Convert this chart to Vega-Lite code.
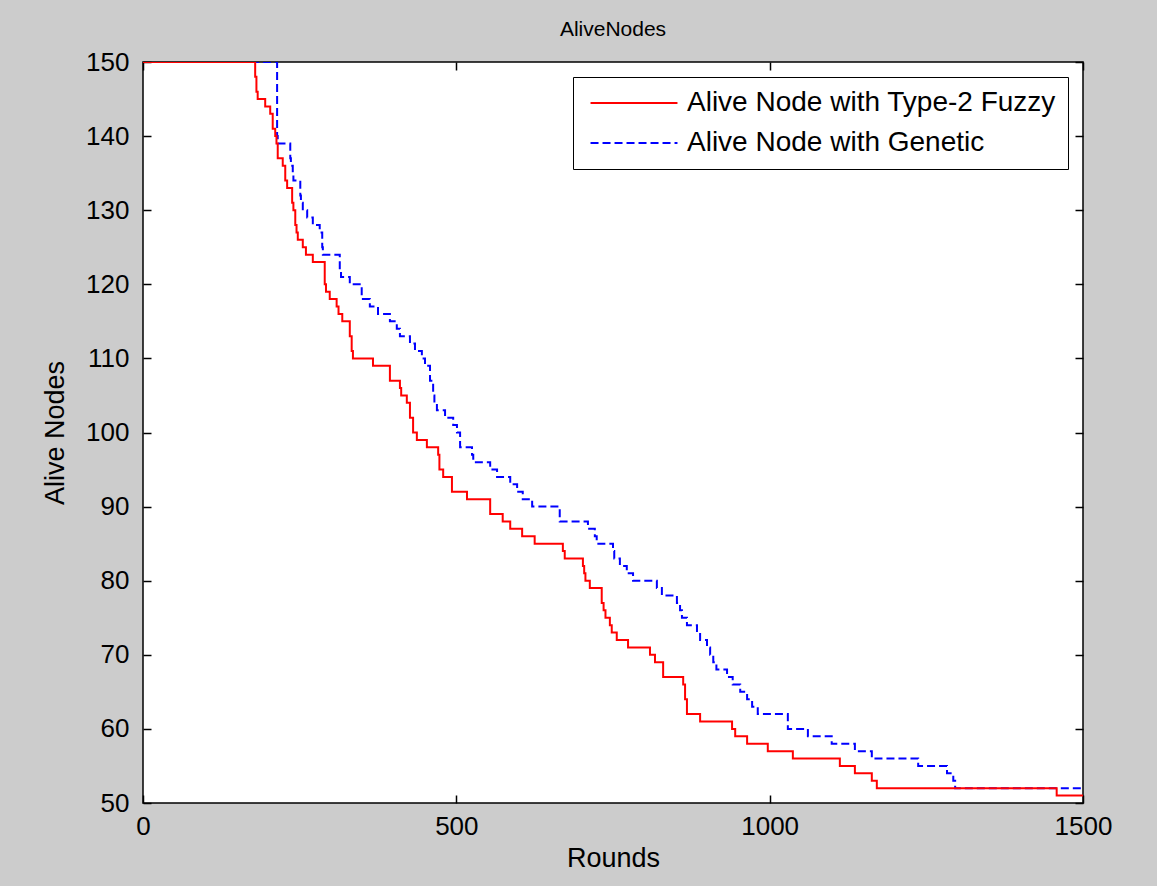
{
  "$schema": "https://vega.github.io/schema/vega-lite/v6.json",
  "width": 940,
  "height": 741,
  "autosize": "none",
  "padding": {"left": 143, "top": 62, "right": 74, "bottom": 83},
  "background": "#cccccc",
  "title": {"text": "AliveNodes", "anchor": "middle"},
  "config": {
    "title": {"fontSize": 21, "font": "Liberation Sans", "fontWeight": "normal", "color": "#000000", "offset": 9},
    "view": {"fill": "#ffffff", "stroke": "#000000", "strokeWidth": 1.5},
    "axis": {"labelFont": "Liberation Sans", "titleFont": "Liberation Sans", "labelFontSize": 26, "titleFontSize": 27, "titleFontWeight": "normal", "labelColor": "#000000", "titleColor": "#000000", "grid": false, "domain": false, "tickColor": "#000000", "tickWidth": 1.5, "tickSize": -8, "labelFlush": false, "format": "d"},
    "legend": {"labelFont": "Liberation Sans", "labelFontSize": 28, "labelColor": "#000000", "labelLimit": 600}
  },
  "data": {"values": [
    {"series": "Alive Node with Type-2 Fuzzy", "round": 0, "value": 150},
    {"series": "Alive Node with Type-2 Fuzzy", "round": 179, "value": 148},
    {"series": "Alive Node with Type-2 Fuzzy", "round": 181, "value": 146},
    {"series": "Alive Node with Type-2 Fuzzy", "round": 183, "value": 145},
    {"series": "Alive Node with Type-2 Fuzzy", "round": 195, "value": 144},
    {"series": "Alive Node with Type-2 Fuzzy", "round": 203, "value": 143},
    {"series": "Alive Node with Type-2 Fuzzy", "round": 207, "value": 141},
    {"series": "Alive Node with Type-2 Fuzzy", "round": 211, "value": 140},
    {"series": "Alive Node with Type-2 Fuzzy", "round": 213, "value": 139},
    {"series": "Alive Node with Type-2 Fuzzy", "round": 215, "value": 137},
    {"series": "Alive Node with Type-2 Fuzzy", "round": 223, "value": 136},
    {"series": "Alive Node with Type-2 Fuzzy", "round": 227, "value": 134},
    {"series": "Alive Node with Type-2 Fuzzy", "round": 230, "value": 133},
    {"series": "Alive Node with Type-2 Fuzzy", "round": 238, "value": 131},
    {"series": "Alive Node with Type-2 Fuzzy", "round": 240, "value": 130},
    {"series": "Alive Node with Type-2 Fuzzy", "round": 243, "value": 128},
    {"series": "Alive Node with Type-2 Fuzzy", "round": 245, "value": 127},
    {"series": "Alive Node with Type-2 Fuzzy", "round": 247, "value": 126},
    {"series": "Alive Node with Type-2 Fuzzy", "round": 255, "value": 125},
    {"series": "Alive Node with Type-2 Fuzzy", "round": 260, "value": 124},
    {"series": "Alive Node with Type-2 Fuzzy", "round": 271, "value": 123},
    {"series": "Alive Node with Type-2 Fuzzy", "round": 290, "value": 120},
    {"series": "Alive Node with Type-2 Fuzzy", "round": 292, "value": 119},
    {"series": "Alive Node with Type-2 Fuzzy", "round": 298, "value": 118},
    {"series": "Alive Node with Type-2 Fuzzy", "round": 309, "value": 117},
    {"series": "Alive Node with Type-2 Fuzzy", "round": 312, "value": 116},
    {"series": "Alive Node with Type-2 Fuzzy", "round": 318, "value": 115},
    {"series": "Alive Node with Type-2 Fuzzy", "round": 330, "value": 113},
    {"series": "Alive Node with Type-2 Fuzzy", "round": 333, "value": 111},
    {"series": "Alive Node with Type-2 Fuzzy", "round": 335, "value": 110},
    {"series": "Alive Node with Type-2 Fuzzy", "round": 367, "value": 109},
    {"series": "Alive Node with Type-2 Fuzzy", "round": 394, "value": 107},
    {"series": "Alive Node with Type-2 Fuzzy", "round": 410, "value": 106},
    {"series": "Alive Node with Type-2 Fuzzy", "round": 412, "value": 105},
    {"series": "Alive Node with Type-2 Fuzzy", "round": 421, "value": 104},
    {"series": "Alive Node with Type-2 Fuzzy", "round": 426, "value": 102},
    {"series": "Alive Node with Type-2 Fuzzy", "round": 431, "value": 100},
    {"series": "Alive Node with Type-2 Fuzzy", "round": 437, "value": 99},
    {"series": "Alive Node with Type-2 Fuzzy", "round": 453, "value": 98},
    {"series": "Alive Node with Type-2 Fuzzy", "round": 471, "value": 97},
    {"series": "Alive Node with Type-2 Fuzzy", "round": 473, "value": 95},
    {"series": "Alive Node with Type-2 Fuzzy", "round": 479, "value": 94},
    {"series": "Alive Node with Type-2 Fuzzy", "round": 493, "value": 92},
    {"series": "Alive Node with Type-2 Fuzzy", "round": 517, "value": 91},
    {"series": "Alive Node with Type-2 Fuzzy", "round": 554, "value": 89},
    {"series": "Alive Node with Type-2 Fuzzy", "round": 574, "value": 88},
    {"series": "Alive Node with Type-2 Fuzzy", "round": 586, "value": 87},
    {"series": "Alive Node with Type-2 Fuzzy", "round": 605, "value": 86},
    {"series": "Alive Node with Type-2 Fuzzy", "round": 625, "value": 85},
    {"series": "Alive Node with Type-2 Fuzzy", "round": 670, "value": 84},
    {"series": "Alive Node with Type-2 Fuzzy", "round": 673, "value": 83},
    {"series": "Alive Node with Type-2 Fuzzy", "round": 702, "value": 82},
    {"series": "Alive Node with Type-2 Fuzzy", "round": 704, "value": 81},
    {"series": "Alive Node with Type-2 Fuzzy", "round": 706, "value": 80},
    {"series": "Alive Node with Type-2 Fuzzy", "round": 713, "value": 79},
    {"series": "Alive Node with Type-2 Fuzzy", "round": 732, "value": 77},
    {"series": "Alive Node with Type-2 Fuzzy", "round": 735, "value": 76},
    {"series": "Alive Node with Type-2 Fuzzy", "round": 738, "value": 75},
    {"series": "Alive Node with Type-2 Fuzzy", "round": 745, "value": 74},
    {"series": "Alive Node with Type-2 Fuzzy", "round": 748, "value": 73},
    {"series": "Alive Node with Type-2 Fuzzy", "round": 756, "value": 72},
    {"series": "Alive Node with Type-2 Fuzzy", "round": 774, "value": 71},
    {"series": "Alive Node with Type-2 Fuzzy", "round": 809, "value": 70},
    {"series": "Alive Node with Type-2 Fuzzy", "round": 817, "value": 69},
    {"series": "Alive Node with Type-2 Fuzzy", "round": 830, "value": 67},
    {"series": "Alive Node with Type-2 Fuzzy", "round": 862, "value": 66},
    {"series": "Alive Node with Type-2 Fuzzy", "round": 865, "value": 64},
    {"series": "Alive Node with Type-2 Fuzzy", "round": 868, "value": 62},
    {"series": "Alive Node with Type-2 Fuzzy", "round": 889, "value": 61},
    {"series": "Alive Node with Type-2 Fuzzy", "round": 940, "value": 60},
    {"series": "Alive Node with Type-2 Fuzzy", "round": 945, "value": 59},
    {"series": "Alive Node with Type-2 Fuzzy", "round": 964, "value": 58},
    {"series": "Alive Node with Type-2 Fuzzy", "round": 997, "value": 57},
    {"series": "Alive Node with Type-2 Fuzzy", "round": 1037, "value": 56},
    {"series": "Alive Node with Type-2 Fuzzy", "round": 1112, "value": 55},
    {"series": "Alive Node with Type-2 Fuzzy", "round": 1136, "value": 54},
    {"series": "Alive Node with Type-2 Fuzzy", "round": 1163, "value": 53},
    {"series": "Alive Node with Type-2 Fuzzy", "round": 1171, "value": 52},
    {"series": "Alive Node with Type-2 Fuzzy", "round": 1458, "value": 51},
    {"series": "Alive Node with Type-2 Fuzzy", "round": 1500, "value": 51},
    {"series": "Alive Node with Genetic", "round": 0, "value": 150},
    {"series": "Alive Node with Genetic", "round": 214, "value": 140},
    {"series": "Alive Node with Genetic", "round": 215, "value": 139},
    {"series": "Alive Node with Genetic", "round": 235, "value": 137},
    {"series": "Alive Node with Genetic", "round": 236, "value": 136},
    {"series": "Alive Node with Genetic", "round": 239, "value": 135},
    {"series": "Alive Node with Genetic", "round": 240, "value": 134},
    {"series": "Alive Node with Genetic", "round": 251, "value": 132},
    {"series": "Alive Node with Genetic", "round": 252, "value": 131},
    {"series": "Alive Node with Genetic", "round": 255, "value": 130},
    {"series": "Alive Node with Genetic", "round": 262, "value": 129},
    {"series": "Alive Node with Genetic", "round": 271, "value": 128},
    {"series": "Alive Node with Genetic", "round": 282, "value": 127},
    {"series": "Alive Node with Genetic", "round": 286, "value": 125},
    {"series": "Alive Node with Genetic", "round": 287, "value": 124},
    {"series": "Alive Node with Genetic", "round": 314, "value": 122},
    {"series": "Alive Node with Genetic", "round": 316, "value": 121},
    {"series": "Alive Node with Genetic", "round": 330, "value": 120},
    {"series": "Alive Node with Genetic", "round": 349, "value": 118},
    {"series": "Alive Node with Genetic", "round": 362, "value": 117},
    {"series": "Alive Node with Genetic", "round": 375, "value": 116},
    {"series": "Alive Node with Genetic", "round": 394, "value": 115},
    {"series": "Alive Node with Genetic", "round": 405, "value": 114},
    {"series": "Alive Node with Genetic", "round": 410, "value": 113},
    {"series": "Alive Node with Genetic", "round": 426, "value": 112},
    {"series": "Alive Node with Genetic", "round": 434, "value": 111},
    {"series": "Alive Node with Genetic", "round": 445, "value": 110},
    {"series": "Alive Node with Genetic", "round": 450, "value": 109},
    {"series": "Alive Node with Genetic", "round": 458, "value": 107},
    {"series": "Alive Node with Genetic", "round": 463, "value": 105},
    {"series": "Alive Node with Genetic", "round": 465, "value": 104},
    {"series": "Alive Node with Genetic", "round": 469, "value": 103},
    {"series": "Alive Node with Genetic", "round": 482, "value": 102},
    {"series": "Alive Node with Genetic", "round": 495, "value": 101},
    {"series": "Alive Node with Genetic", "round": 501, "value": 100},
    {"series": "Alive Node with Genetic", "round": 506, "value": 98},
    {"series": "Alive Node with Genetic", "round": 525, "value": 97},
    {"series": "Alive Node with Genetic", "round": 527, "value": 96},
    {"series": "Alive Node with Genetic", "round": 554, "value": 95},
    {"series": "Alive Node with Genetic", "round": 565, "value": 94},
    {"series": "Alive Node with Genetic", "round": 586, "value": 93},
    {"series": "Alive Node with Genetic", "round": 597, "value": 92},
    {"series": "Alive Node with Genetic", "round": 606, "value": 91},
    {"series": "Alive Node with Genetic", "round": 621, "value": 90},
    {"series": "Alive Node with Genetic", "round": 665, "value": 88},
    {"series": "Alive Node with Genetic", "round": 710, "value": 87},
    {"series": "Alive Node with Genetic", "round": 721, "value": 86},
    {"series": "Alive Node with Genetic", "round": 724, "value": 85},
    {"series": "Alive Node with Genetic", "round": 750, "value": 84},
    {"series": "Alive Node with Genetic", "round": 752, "value": 83},
    {"series": "Alive Node with Genetic", "round": 761, "value": 82},
    {"series": "Alive Node with Genetic", "round": 772, "value": 81},
    {"series": "Alive Node with Genetic", "round": 782, "value": 80},
    {"series": "Alive Node with Genetic", "round": 820, "value": 79},
    {"series": "Alive Node with Genetic", "round": 828, "value": 78},
    {"series": "Alive Node with Genetic", "round": 852, "value": 77},
    {"series": "Alive Node with Genetic", "round": 857, "value": 76},
    {"series": "Alive Node with Genetic", "round": 860, "value": 75},
    {"series": "Alive Node with Genetic", "round": 868, "value": 74},
    {"series": "Alive Node with Genetic", "round": 884, "value": 73},
    {"series": "Alive Node with Genetic", "round": 889, "value": 72},
    {"series": "Alive Node with Genetic", "round": 900, "value": 71},
    {"series": "Alive Node with Genetic", "round": 905, "value": 70},
    {"series": "Alive Node with Genetic", "round": 910, "value": 69},
    {"series": "Alive Node with Genetic", "round": 915, "value": 68},
    {"series": "Alive Node with Genetic", "round": 932, "value": 67},
    {"series": "Alive Node with Genetic", "round": 941, "value": 66},
    {"series": "Alive Node with Genetic", "round": 953, "value": 65},
    {"series": "Alive Node with Genetic", "round": 964, "value": 64},
    {"series": "Alive Node with Genetic", "round": 972, "value": 63},
    {"series": "Alive Node with Genetic", "round": 981, "value": 62},
    {"series": "Alive Node with Genetic", "round": 1029, "value": 60},
    {"series": "Alive Node with Genetic", "round": 1061, "value": 59},
    {"series": "Alive Node with Genetic", "round": 1099, "value": 58},
    {"series": "Alive Node with Genetic", "round": 1136, "value": 57},
    {"series": "Alive Node with Genetic", "round": 1163, "value": 56},
    {"series": "Alive Node with Genetic", "round": 1237, "value": 55},
    {"series": "Alive Node with Genetic", "round": 1283, "value": 54},
    {"series": "Alive Node with Genetic", "round": 1293, "value": 53},
    {"series": "Alive Node with Genetic", "round": 1296, "value": 52},
    {"series": "Alive Node with Genetic", "round": 1500, "value": 52}
  ]},
  "layer": [
    {
      "transform": [{"filter": "datum.series === 'Alive Node with Genetic'"}],
      "mark": {"type": "line", "interpolate": "step-after", "strokeWidth": 2, "clip": true},
      "encoding": {
        "x": {"field": "round", "type": "quantitative", "scale": {"domain": [0, 1500], "nice": false},
              "axis": {"orient": "top", "values": [0, 500, 1000, 1500], "labels": false, "title": null}},
        "y": {"field": "value", "type": "quantitative", "scale": {"domain": [50, 150], "nice": false, "zero": false},
              "axis": {"orient": "right", "values": [50, 60, 70, 80, 90, 100, 110, 120, 130, 140, 150], "labels": false, "title": null}},
        "color": {"field": "series", "type": "nominal",
                  "scale": {"domain": ["Alive Node with Type-2 Fuzzy", "Alive Node with Genetic"], "range": ["#ff0000", "#0000ff"]},
                  "legend": {"title": null, "orient": "none", "legendX": 430, "legendY": 15, "symbolType": "M-6,0H6", "symbolSize": 210, "symbolStrokeWidth": 2, "symbolOffset": 35, "strokeColor": "#000000", "fillColor": "#ffffff", "padding": 12, "labelOffset": 39, "rowPadding": 12}},
        "strokeDash": {"field": "series", "type": "nominal",
                  "scale": {"domain": ["Alive Node with Type-2 Fuzzy", "Alive Node with Genetic"], "range": [[1, 0], [8, 4]]},
                  "legend": null}
      }
    },
    {
      "transform": [{"filter": "datum.series === 'Alive Node with Type-2 Fuzzy'"}],
      "mark": {"type": "line", "interpolate": "step-after", "strokeWidth": 2, "clip": true},
      "encoding": {
        "x": {"field": "round", "type": "quantitative", "scale": {"domain": [0, 1500], "nice": false},
              "axis": {"orient": "bottom", "values": [0, 500, 1000, 1500], "title": "Rounds", "labelPadding": 18, "titlePadding": 6}},
        "y": {"field": "value", "type": "quantitative", "scale": {"domain": [50, 150], "nice": false, "zero": false},
              "axis": {"orient": "left", "values": [50, 60, 70, 80, 90, 100, 110, 120, 130, 140, 150], "title": "Alive Nodes", "labelPadding": 22, "titlePadding": 16}},
        "color": {"field": "series", "type": "nominal"},
        "strokeDash": {"field": "series", "type": "nominal"}
      }
    }
  ],
  "resolve": {"axis": {"x": "independent", "y": "independent"}}
}
